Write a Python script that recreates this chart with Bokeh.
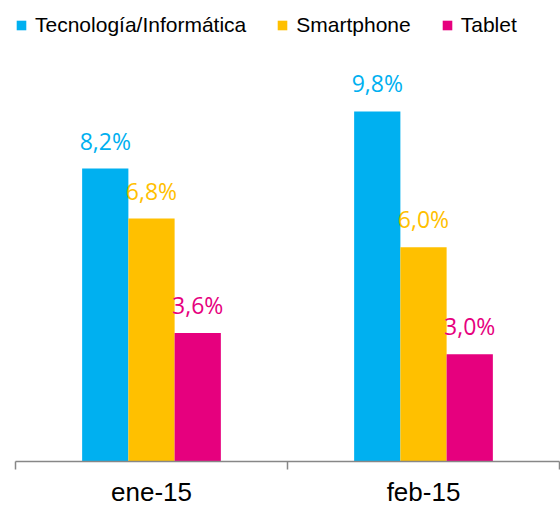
from bokeh.plotting import figure
from bokeh.models import Range1d, FixedTicker, Legend, LegendItem, ColumnDataSource, LinearAxis
from bokeh.transform import dodge
from bokeh.core.properties import value
from bokeh.embed import file_html
from bokeh.resources import INLINE

categories = ["ene-15", "feb-15"]
series_names = ["Tecnología/Informática", "Smartphone", "Tablet"]
tecnologia = [8.2, 9.8]
smartphone = [6.8, 6.0]
tablet = [3.6, 3.0]
colors = ["#00B0F0", "#FFC000", "#E6007E"]

series_values = [tecnologia, smartphone, tablet]
xi = [i + 0.5 for i in range(len(categories))]

def fmt(v):
    return ("%.1f%%" % v).replace(".", ",")

data = {"x": xi, "cat": categories}
keys = ["s0", "s1", "s2"]
for k, vals in zip(keys, series_values):
    data[k] = vals
    data[k + "_lbl"] = [fmt(v) for v in vals]
src = ColumnDataSource(data)

p = figure(width=560, height=509,
           x_range=Range1d(0, len(categories)), y_range=Range1d(0, 12.54),
           output_backend="svg", toolbar_location=None,
           x_axis_type=None, y_axis_type=None,
           min_border_left=15, min_border_right=1, min_border_top=13, min_border_bottom=45)
p.outline_line_color = None
p.background_fill_color = "white"
p.border_fill_color = "white"

bw = 0.17
offsets = [-0.17, 0.0, 0.17]
items = []
for k, name, col, off in zip(keys, series_names, colors, offsets):
    r = p.vbar(x=dodge("x", off, range=p.x_range), top=k, width=bw, source=src,
               fill_color=col, line_color=None)
    p.text(x=dodge("x", off, range=p.x_range), y=k, text=k + "_lbl", source=src,
           text_align="center", text_baseline="alphabetic", y_offset=-28,
           text_font=value("Open Sans"), text_font_size="23px", text_color=col)
    items.append(LegendItem(label=name, renderers=[r]))

ax = LinearAxis(ticker=FixedTicker(ticks=xi, minor_ticks=list(range(len(categories) + 1))),
                major_label_overrides={x: c for x, c in zip(xi, categories)})
ax.major_tick_line_color = None
ax.major_tick_out = 0
ax.major_tick_in = 0
ax.minor_tick_out = 8
ax.minor_tick_in = 0
ax.minor_tick_line_color = "#878787"
ax.minor_tick_line_width = 1.5
ax.axis_line_color = "#878787"
ax.axis_line_width = 1.5
ax.major_label_text_font = "Liberation Sans"
ax.major_label_text_font_size = "26px"
ax.major_label_text_color = "black"
ax.major_label_standoff = 7
p.add_layout(ax, "below")

legend = Legend(items=items, orientation="horizontal", location="top_left",
                glyph_width=12, glyph_height=12, label_standoff=8, spacing=30,
                padding=4, margin=0, border_line_color=None, background_fill_alpha=0,
                label_text_font="Liberation Sans", label_text_font_size="21px",
                label_text_color="black")
p.add_layout(legend)

open("out.html", "w").write(file_html(p, INLINE))
